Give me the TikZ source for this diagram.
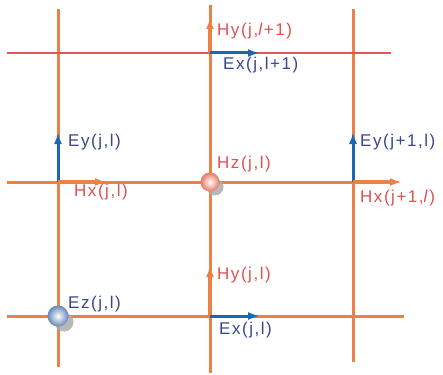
\documentclass[tikz,border=0pt]{standalone}
\usepackage{fontspec}
\setmainfont{Liberation Sans}[LetterSpace=9]
\usetikzlibrary{arrows.meta, shadings, calc}

\definecolor{gridorange}{RGB}{234,130,72}
\definecolor{cutred}{RGB}{230,84,88}
\definecolor{earrow}{RGB}{28,104,176}
\definecolor{etext}{RGB}{58,70,140}
\definecolor{htext}{RGB}{224,80,80}
\definecolor{hzball}{RGB}{232,120,100}
\definecolor{ezball}{RGB}{100,136,184}

\tikzset{
  gridline/.style={gridorange, line width=3pt},
  efield/.style={earrow, line width=3pt, -{Latex[length=12pt,width=8pt]}},
  hfield/.style={gridorange, line width=3.4pt, -{Latex[length=12pt,width=8pt]}},
  elabel/.style={etext, anchor=base west, inner sep=0pt},
  hlabel/.style={htext, anchor=base west, inner sep=0pt},
}

\begin{document}
\begin{tikzpicture}[x=1pt, y=-1pt, font=\fontsize{17}{19}\selectfont]
    \useasboundingbox (0,0) rectangle (443,374);
    % grid points
    \coordinate (a1) at (58,316);
    \coordinate (b1) at (210,316);
    \coordinate (a2) at (58,182);
    \coordinate (b2) at (210,182);
    \coordinate (c2) at (353,182);
    \coordinate (b3) at (210,53);
    % arrow tips
    \coordinate (ex1) at (260,316);
    \coordinate (hy1) at (210,265);
    \coordinate (hx1) at (107,182);
    \coordinate (ey1) at (58,132);
    \coordinate (ey2) at (353,132);
    \coordinate (hx2) at (402,182);
    \coordinate (ex2) at (260,53);
    \coordinate (hy2) at (210,17);

    % grid lines
    \draw[gridline] (58,9) -- (58,367);
    \draw[gridline] (210,5) -- (210,373);
    \draw[gridline] (353,9) -- (353,362);
    \draw[gridline] (7,182) -- (392,182);
    \draw[gridline] (7,316) -- (404,316);
    \draw[cutred, line width=1.5pt] (7,53) -- (391,53);

    % field components
    \draw[hfield] (b3) -- (hy2);
    \draw[efield] (b3) -- (ex2);
    \draw[efield] (a2) -- (ey1);
    \draw[hfield] (a2) -- (hx1);
    \draw[efield] (c2) -- (ey2);
    \draw[hfield] (c2) -- (hx2);
    \draw[hfield] (b1) -- (hy1);
    \draw[efield] (b1) -- (ex1);

    % Hz and Ez points
    \fill[gray!65, opacity=0.85] ($(b2)+(5,5)$) circle (8.5);
    \shade[inner color=white, outer color=hzball] (b2) circle (9.5);
    \fill[gray!65, opacity=0.85] ($(a1)+(6,6)$) circle (9.5);
    \shade[inner color=white, outer color=ezball] (a1) circle (10.5);

    % labels
    \node[hlabel] (lhy2) at (217,36) {Hy(j,\textit{l}+1)};
    \node[elabel] (lex2) at (223,70) {Ex(j,l+1)};
    \node[elabel] (ley1) at (68,146) {Ey(j,l)};
    \node[hlabel] (lhz) at (217,168) {Hz(j,l)};
    \node[elabel] (ley2) at (360,146) {Ey(j+1,l)};
    \node[hlabel] (lhx1) at (74,196) {Hx(j,l)};
    \node[hlabel] (lhx2) at (360,202) {Hx(j+1,\textit{l})};
    \node[hlabel] (lhy1) at (217,279) {Hy(j,l)};
    \node[elabel] (lez) at (68,308) {Ez(j,l)};
    \node[elabel] (lex1) at (219,334) {Ex(j,l)};
\end{tikzpicture}
\end{document}
